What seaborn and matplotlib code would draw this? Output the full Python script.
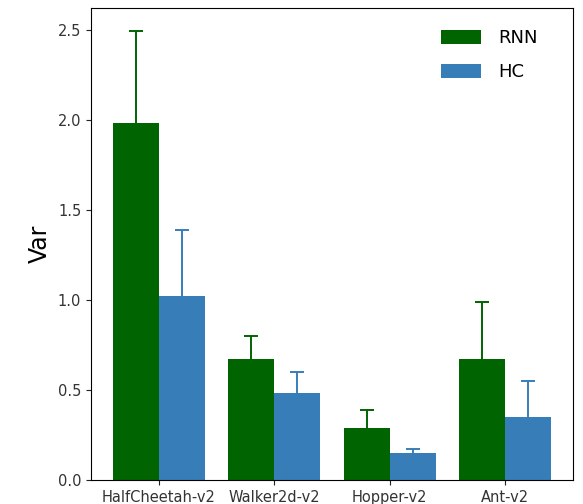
import matplotlib
matplotlib.use("Agg")
import matplotlib.pyplot as plt
from matplotlib.container import BarContainer
import seaborn as sns
import pandas as pd
import numpy as np

envs = ["HalfCheetah-v2", "Walker2d-v2", "Hopper-v2", "Ant-v2"]
methods = ["RNN", "HC"]
rnn_mean = [1.98, 0.67, 0.29, 0.67]
rnn_err = [0.51, 0.13, 0.10, 0.32]
hc_mean = [1.02, 0.48, 0.15, 0.35]
hc_err = [0.37, 0.12, 0.02, 0.20]
colors = ["#006400", "#377eb8"]

df = pd.DataFrame({
    "env": envs * 2,
    "method": ["RNN"] * 4 + ["HC"] * 4,
    "var": rnn_mean + hc_mean,
})
errs = [rnn_err, hc_err]

fig = plt.figure(figsize=(5.83, 5.04), dpi=100)
ax = fig.add_axes([0.156, 0.048, 0.827, 0.936])
sns.barplot(data=df, x="env", y="var", hue="method", order=envs,
            hue_order=methods, palette=colors, saturation=1,
            errorbar=None, width=0.8, ax=ax, linewidth=0)

bar_conts = [c for c in ax.containers if isinstance(c, BarContainer)]
for j, cont in enumerate(bar_conts):
    bars = [b for b in cont.patches if b is not None]
    xs = np.array([b.get_x() + b.get_width() / 2 for b in bars])
    hs = np.array([b.get_height() for b in bars])
    tops = hs + np.array(errs[j])
    ax.vlines(xs, hs, tops, color=colors[j], linewidth=1.4)
    ax.plot(xs, tops, linestyle="none", marker="_", markersize=10,
            markeredgewidth=1.4, color=colors[j])

ax.set_xlim(-0.59, 3.59)
ax.set_ylim(0, 2.62)
ax.set_yticks([0, 0.5, 1.0, 1.5, 2.0, 2.5])
ax.tick_params(axis="both", labelsize=10.5, colors="#222222", labelcolor="#333333")
ax.set_xlabel("")
ax.set_ylabel("Var", fontsize=17)
ax.legend(loc="upper right", bbox_to_anchor=(0.96, 0.99), frameon=False,
          fontsize=13, handlelength=2.2, handleheight=0.85,
          handletextpad=0.95, labelspacing=0.9)
fig.savefig("out.png", dpi=100)
